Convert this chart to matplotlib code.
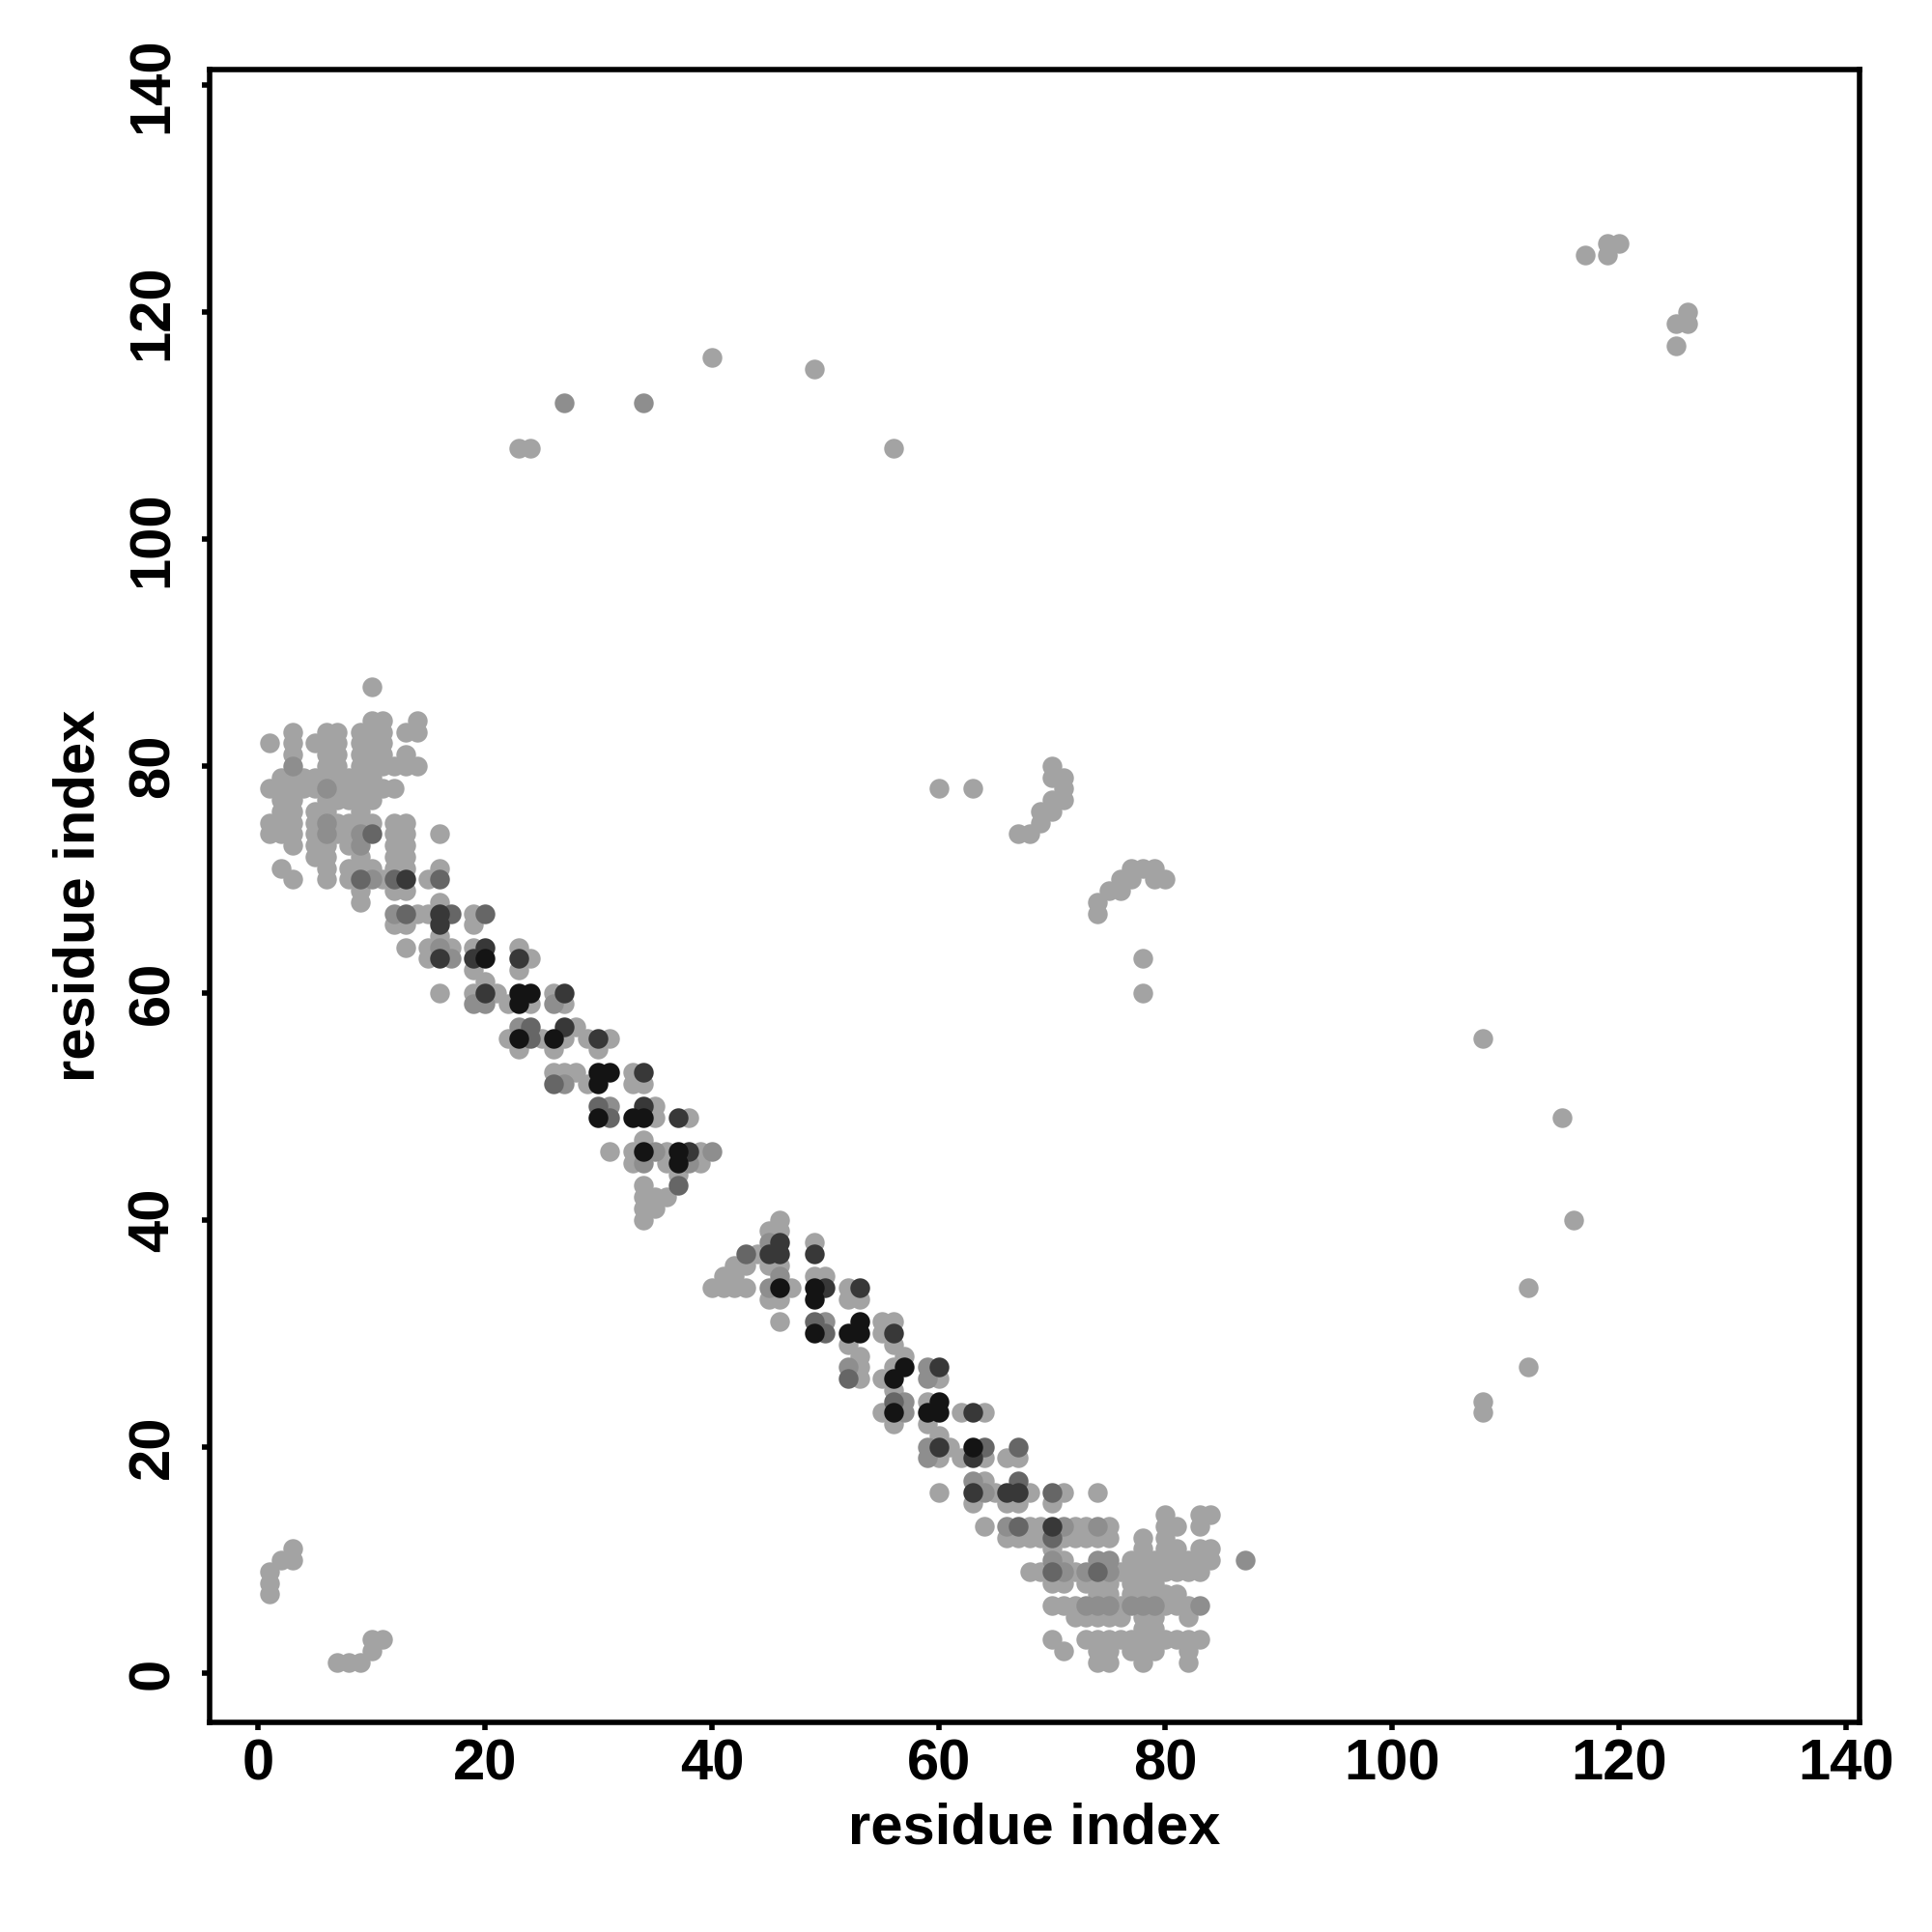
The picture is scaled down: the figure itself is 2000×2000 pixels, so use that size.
import matplotlib
matplotlib.use("Agg")
import matplotlib.pyplot as plt

# residue j (y) -> residues i (x) in contact
contact_rows = {
    87: [10],
    84: [10, 11, 14],
    83: [3, 6, 7, 9, 10, 11, 13, 14],
    82: [1, 3, 5, 6, 7, 9, 10, 11],
    81: [3, 6, 7, 9, 10, 11, 13],
    80: [3, 6, 7, 9, 10, 11, 12, 13, 14],
    79: [2, 3, 4, 5, 6, 7, 8, 9, 10],
    78: [1, 2, 3, 4, 5, 6, 7, 8, 9, 10, 11, 12],
    77: [2, 3, 6, 7, 8, 9, 10],
    76: [2, 3, 5, 6, 9],
    75: [1, 2, 3, 5, 6, 7, 8, 9, 10, 12, 13],
    74: [1, 2, 3, 5, 6, 7, 8, 9, 10, 12, 13, 16],
    73: [3, 5, 6, 8, 9, 12, 13],
    72: [5, 6, 9, 12, 13],
    71: [2, 6, 8, 9, 10, 12, 13, 16],
    70: [3, 6, 8, 9, 10, 11, 12, 13, 15, 16],
    69: [9, 12, 13],
    68: [9, 16],
    67: [12, 13, 14, 15, 16, 17, 19, 20],
    66: [12, 13, 16, 19],
    65: [16],
    64: [13, 15, 16, 17, 19, 20, 23],
    63: [15, 16, 17, 19, 20, 23, 24],
    62: [19, 23],
    61: [20],
    60: [16, 19, 20, 21, 23, 24, 26, 27],
    59: [19, 20, 22, 23, 24, 26, 27],
    57: [23, 24, 27, 28],
    56: [22, 23, 24, 25, 26, 27, 29, 30, 31],
    55: [23, 26, 30],
    53: [26, 27, 28, 30, 31, 33, 34],
    52: [26, 27, 29, 30, 33, 34],
    50: [30, 31, 34, 35],
    49: [30, 31, 33, 34, 35, 37, 38],
    47: [34],
    46: [31, 33, 34, 35, 36, 37, 38, 39, 40],
    45: [33, 34, 36, 37, 38, 39],
    44: [37],
    43: [34, 37],
    42: [34, 35, 36],
    41: [34, 35],
    40: [34, 46],
    39: [45, 46],
    38: [45, 46, 49],
    37: [43, 44, 45, 46, 49],
    36: [42, 43, 45, 46],
    35: [41, 42, 46, 49, 50],
    34: [40, 41, 42, 43, 45, 46, 47, 49, 50, 52, 53],
    33: [45, 46, 49, 52, 53],
    31: [46, 49, 50, 53, 55, 56],
    30: [49, 50, 52, 53, 55, 56],
    29: [52, 56],
    28: [53, 57],
    27: [52, 53, 56, 57, 59, 60],
    26: [52, 53, 55, 56, 59, 60],
    25: [56],
    24: [56, 57, 59, 60],
    23: [55, 56, 57, 59, 60, 62, 63, 64],
    22: [56, 59],
    21: [60],
    20: [59, 60, 61, 63, 64, 67],
    19: [59, 60, 62, 63, 64, 66, 67],
    17: [63, 64, 67],
    16: [60, 63, 64, 65, 66, 67, 68, 70, 71, 74],
    15: [63, 66, 67, 70],
    14: [80, 83, 84],
    13: [64, 66, 67, 68, 69, 70, 71, 72, 73, 74, 75, 80, 81, 83],
    12: [66, 67, 68, 69, 70, 71, 72, 73, 74, 75, 78, 80],
    11: [3, 70, 78, 80, 81, 83, 84],
    10: [2, 3, 70, 71, 74, 75, 77, 78, 79, 80, 81, 82, 83, 84, 87],
    9: [1, 68, 69, 70, 71, 72, 73, 74, 75, 76, 77, 78, 79, 80, 81, 82, 83],
    8: [1, 70, 71, 73, 74, 75, 77, 78, 79],
    7: [1, 74, 75, 77, 78, 79, 80, 81],
    6: [70, 71, 72, 73, 74, 75, 76, 77, 78, 79, 80, 81, 82, 83],
    5: [72, 73, 74, 75, 76, 78, 79, 82],
    4: [78, 79],
    3: [10, 11, 70, 73, 74, 75, 76, 77, 78, 79, 80, 81, 82, 83],
    2: [10, 71, 74, 75, 77, 78, 79, 82],
    1: [7, 8, 9, 74, 75, 78, 82],
}

# isolated long-range contacts
far_contacts = [
    (23, 108), (24, 108), (27, 112), (34, 112), (40, 116), (49, 115), (56, 108),
    (60, 78), (63, 78), (67, 74), (68, 74), (69, 75), (69, 76), (70, 76),
    (70, 77), (71, 77), (71, 78), (71, 79), (70, 79), (70, 80),
    (74, 67), (74, 68), (75, 69), (76, 69), (76, 70), (77, 70), (77, 71),
    (78, 71), (79, 71), (79, 70), (80, 70), (78, 63), (78, 60),
    (108, 56), (115, 49), (116, 40), (112, 34), (112, 27), (108, 24), (108, 23),
    (117, 125), (119, 126), (119, 125), (120, 126),
    (125, 119), (126, 120), (126, 119), (125, 117),
]

# darker shades (higher contact frequency)
shade_1 = [
    (3, 80), (6, 78), (6, 75), (6, 74), (9, 74), (9, 73), (10, 70), (12, 67),
    (16, 64), (17, 63), (19, 59), (20, 59), (26, 59), (23, 57), (27, 52),
    (31, 50), (35, 46), (40, 46), (34, 45), (38, 45), (45, 38), (46, 35),
    (45, 34), (50, 31), (52, 27), (59, 27), (59, 26), (57, 24), (57, 23),
    (59, 20), (59, 19), (63, 17), (64, 16), (66, 13), (71, 13), (74, 13),
    (70, 10), (74, 10), (75, 10), (71, 9), (73, 9), (75, 9), (73, 6), (74, 6),
    (75, 6), (77, 6), (78, 6), (79, 6), (83, 6), (87, 10), (27, 112), (34, 112),
]
shade_2 = [
    (10, 74), (9, 70), (12, 70), (16, 70), (13, 67), (17, 67), (20, 67),
    (24, 57), (24, 56), (26, 52), (30, 50), (31, 49), (37, 43), (43, 37),
    (49, 31), (50, 30), (52, 26), (56, 24), (64, 20), (67, 20), (67, 17),
    (70, 16), (67, 13), (70, 12), (70, 9), (74, 9),
]
shade_3 = [
    (13, 70), (16, 67), (16, 66), (20, 64), (16, 63), (19, 63), (23, 63),
    (20, 60), (27, 60), (27, 57), (30, 56), (34, 53), (34, 50), (37, 49),
    (38, 46), (46, 38), (45, 37), (46, 37), (49, 37), (50, 34), (53, 34),
    (56, 30), (60, 27), (63, 23), (60, 20), (63, 19), (63, 16), (66, 16),
    (67, 16), (70, 13),
]
shade_4 = [
    (20, 63), (23, 60), (24, 60), (23, 59), (23, 56), (26, 56), (30, 53),
    (31, 53), (30, 52), (30, 49), (33, 49), (34, 49), (34, 46), (37, 46),
    (37, 45), (46, 34), (49, 34), (49, 33), (53, 31), (49, 30), (52, 30),
    (53, 30), (56, 26), (57, 27), (60, 24), (56, 23), (59, 23), (60, 23),
    (63, 20),
]
shade_colors = ["#a3a3a3", "#8e8e8e", "#666666", "#383838", "#141414"]

# collect points with their shade level
level = {}
for yy, xs in contact_rows.items():
    for xx in xs:
        level[(xx, yy)] = 0
for p in far_contacts:
    level[p] = 0
for k, pts in enumerate([shade_1, shade_2, shade_3, shade_4], start=1):
    for p in pts:
        level[p] = max(level.get(p, 0), k)

plt.rcParams["font.family"] = ["Liberation Sans", "DejaVu Sans"]
plt.rcParams["font.weight"] = "bold"

fig = plt.figure(figsize=(10, 10), dpi=200)
ax = fig.add_axes([0.1084, 0.1085, 0.8541, 0.8557])

for k in range(5):
    pts = [p for p, v in level.items() if v == k]
    ax.scatter([p[0] for p in pts], [p[1] for p in pts], s=54,
               color=shade_colors[k], linewidths=0, zorder=2 + k)

ax.set_xlim(-4.3, 141.2)
ax.set_ylim(-4.3, 141.4)
ax.set_xticks(range(0, 141, 20))
ax.set_yticks(range(0, 141, 20))
for sp in ax.spines.values():
    sp.set_linewidth(2.0)
ax.tick_params(axis="both", length=3.0, width=2.0, labelsize=21.5, direction="out")
ax.tick_params(axis="x", pad=3)
ax.tick_params(axis="y", pad=8, labelrotation=90)
for lab in ax.get_yticklabels():
    lab.set_va("center")
ax.set_xlabel("residue index", fontsize=21.5, fontweight="bold", labelpad=4)
ax.set_ylabel("residue index", fontsize=21.5, fontweight="bold", labelpad=8)

fig.savefig("out.png", dpi=200, facecolor="white")
